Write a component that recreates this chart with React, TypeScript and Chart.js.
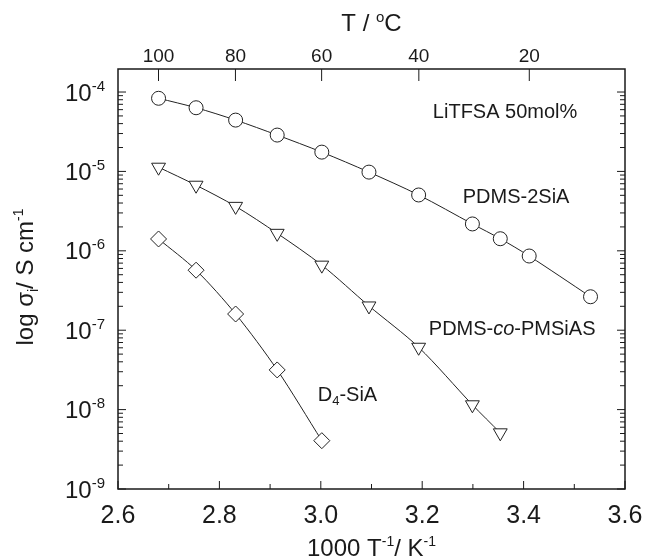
import React, { useEffect, useRef } from "react";
import { Chart, registerables } from "chart.js";

Chart.register(...registerables);

// ---- data (1000/T in K^-1, conductivity in S/cm) ----
const invT_2SiA = [2.680, 2.754, 2.832, 2.914, 3.002, 3.095, 3.193, 3.299, 3.354, 3.411, 3.532];
const sigma_2SiA = [8.34e-5, 6.34e-5, 4.43e-5, 2.87e-5, 1.75e-5, 9.8e-6, 5.05e-6, 2.18e-6, 1.42e-6, 8.6e-7, 2.64e-7];

const invT_coPMSiAS = [2.680, 2.754, 2.832, 2.914, 3.002, 3.095, 3.193, 3.299, 3.354];
const sigma_coPMSiAS = [1.13e-5, 6.7e-6, 3.63e-6, 1.66e-6, 6.6e-7, 2.02e-7, 6.1e-8, 1.15e-8, 5.1e-9];

const invT_D4SiA = [2.680, 2.754, 2.832, 2.914, 3.002];
const sigma_D4SiA = [1.41e-6, 5.7e-7, 1.6e-7, 3.16e-8, 4.06e-9];

// ---- axes ----
const X_MIN = 2.6;
const X_MAX = 3.6;
const Y_MIN = 1e-9;
const Y_MAX = 1.95e-4;
const xTickValues = [2.6, 2.8, 3.0, 3.2, 3.4, 3.6];
const topTempLabels = [100, 80, 60, 40, 20]; // °C
const yDecades = [-9, -8, -7, -6, -5, -4];

// ---- annotations (anchor in data coords: left edge, vertical centre) ----
const annotationTexts = ["LiTFSA 50mol%", "PDMS-2SiA", "PDMS-co-PMSiAS", "D4-SiA"];
const annotationX = [3.221, 3.280, 3.213, 2.994];
const annotationY = [5.77e-5, 4.9e-6, 1.07e-7, 1.57e-8];

const FONT = '"Liberation Sans", Arial, Helvetica, sans-serif';
const INK = "#1a1a1a";

type Seg = { t: string; size: number; dy?: number; italic?: boolean };

function drawRich(
  ctx: CanvasRenderingContext2D,
  segs: Seg[],
  x: number,
  yBase: number,
  align: "left" | "center" | "right"
) {
  const fontOf = (s: Seg) => `${s.italic ? "italic " : ""}${s.size}px ${FONT}`;
  const widths = segs.map((s) => {
    ctx.font = fontOf(s);
    return ctx.measureText(s.t).width;
  });
  const total = widths.reduce((a, b) => a + b, 0);
  let cx = align === "left" ? x : align === "center" ? x - total / 2 : x - total;
  ctx.textAlign = "left";
  ctx.textBaseline = "alphabetic";
  segs.forEach((s, i) => {
    ctx.font = fontOf(s);
    ctx.fillText(s.t, cx, yBase + (s.dy || 0));
    cx += widths[i];
  });
}

function annotationSegs(text: string): Seg[] {
  if (text === "PDMS-co-PMSiAS") {
    return [
      { t: "PDMS-", size: 20 },
      { t: "co", size: 20, italic: true },
      { t: "-PMSiAS", size: 20 },
    ];
  }
  if (text === "D4-SiA") {
    return [
      { t: "D", size: 20 },
      { t: "4", size: 13, dy: 4 },
      { t: "-SiA", size: 20 },
    ];
  }
  return [{ t: text, size: 20 }];
}

const decorPlugin = {
  id: "decor",
  afterDraw(chart: any) {
    const { ctx, chartArea } = chart;
    const { left, right, top, bottom } = chartArea;
    const xs = chart.scales.x;
    const xt = chart.scales.x2;
    const ys = chart.scales.y;
    ctx.save();
    ctx.strokeStyle = INK;
    ctx.fillStyle = INK;
    ctx.lineWidth = 1;
    const line = (x1: number, y1: number, x2: number, y2: number) => {
      ctx.beginPath();
      ctx.moveTo(x1, y1);
      ctx.lineTo(x2, y2);
      ctx.stroke();
    };
    // bottom ticks: majors at labelled values, minors halfway
    xTickValues.forEach((v, i) => {
      const px = xs.getPixelForValue(v);
      line(px, bottom, px, bottom - 8);
      if (i < xTickValues.length - 1) {
        const pm = xs.getPixelForValue((v + xTickValues[i + 1]) / 2);
        line(pm, bottom, pm, bottom - 5);
      }
    });
    // top ticks (temperature)
    xt.ticks.forEach((t: any) => {
      const px = xt.getPixelForValue(t.value);
      line(px, top, px, top + 12);
    });
    // left / right log ticks
    yDecades.forEach((e) => {
      for (let k = 1; k <= 9; k++) {
        const v = k * Math.pow(10, e);
        if (v > Y_MAX * 1.0001 || v < Y_MIN * 0.9999) continue;
        const py = ys.getPixelForValue(v);
        const len = k === 1 ? 8 : 5;
        line(left, py, left + len, py);
        line(right, py, right - len, py);
      }
    });
    // frame
    ctx.lineWidth = 1.5;
    ctx.strokeRect(left, top, right - left, bottom - top);

    // y tick labels 10^n
    yDecades.forEach((e) => {
      const py = ys.getPixelForValue(Math.pow(10, e));
      drawRich(
        ctx,
        [
          { t: "10", size: 24 },
          { t: String(e), size: 15, dy: -10 },
        ],
        left - 13,
        py + 8.6,
        "right"
      );
    });

    // x title
    const cxArea = (left + right) / 2;
    drawRich(
      ctx,
      [
        { t: "1000 T", size: 24 },
        { t: "-1", size: 14, dy: -10 },
        { t: "/ K", size: 24 },
        { t: "-1", size: 14, dy: -10 },
      ],
      cxArea,
      556,
      "center"
    );
    // top title
    drawRich(
      ctx,
      [
        { t: "T / ", size: 24 },
        { t: "o", size: 15, dy: -9 },
        { t: "C", size: 24 },
      ],
      cxArea,
      31,
      "center"
    );
    // y title (rotated)
    ctx.save();
    ctx.translate(33, (top + bottom) / 2 - 2);
    ctx.rotate(-Math.PI / 2);
    drawRich(
      ctx,
      [
        { t: "log σ", size: 24 },
        { t: "i", size: 14, dy: 5 },
        { t: "/ S cm", size: 24 },
        { t: "-1", size: 14, dy: -10 },
      ],
      0,
      0,
      "center"
    );
    ctx.restore();

    // annotations
    annotationTexts.forEach((txt, i) => {
      const px = xs.getPixelForValue(annotationX[i]);
      const py = ys.getPixelForValue(annotationY[i]);
      drawRich(ctx, annotationSegs(txt), px, py + 7.2, "left");
    });
    ctx.restore();
  },
};

function toXY(xa: number[], ya: number[]) {
  return xa.map((x, i) => ({ x, y: ya[i] }));
}

export default function App() {
  const ref = useRef<HTMLCanvasElement | null>(null);

  useEffect(() => {
    document.body.style.margin = "0";
    document.body.style.overflow = "hidden";
    const canvas = ref.current;
    if (!canvas) return;
    const common = {
      borderColor: "#222",
      borderWidth: 1,
      pointBorderColor: "#222",
      pointBackgroundColor: "#ffffff",
      pointBorderWidth: 1,
      tension: 0.3,
      fill: false,
      showLine: true,
    };
    const zeroPad = (s: any) => {
      s.paddingLeft = 0;
      s.paddingRight = 0;
      s.paddingTop = 0;
      s.paddingBottom = 0;
    };
    const chart = new Chart(canvas, {
      type: "scatter",
      data: {
        datasets: [
          {
            ...common,
            label: "PDMS-2SiA",
            data: toXY(invT_2SiA, sigma_2SiA),
            pointStyle: "circle",
            pointRadius: 7,
          },
          {
            ...common,
            label: "PDMS-co-PMSiAS",
            data: toXY(invT_coPMSiAS, sigma_coPMSiAS),
            pointStyle: "triangle",
            pointRotation: 180,
            pointRadius: 8,
          },
          {
            ...common,
            label: "D4-SiA",
            data: toXY(invT_D4SiA, sigma_D4SiA),
            pointStyle: "rectRot",
            pointRadius: 8,
          },
        ] as any,
      },
      options: {
        animation: false,
        responsive: false,
        events: [],
        layout: { padding: { left: 0, right: 20, top: 0, bottom: 0 } },
        plugins: {
          legend: { display: false },
          tooltip: { enabled: false },
        },
        scales: {
          x: {
            type: "linear",
            position: "bottom",
            min: X_MIN,
            max: X_MAX,
            grid: { display: false, drawTicks: false },
            border: { display: false },
            afterBuildTicks: (s: any) => {
              s.ticks = xTickValues.map((v) => ({ value: v }));
            },
            afterFit: (s: any) => {
              s.height = 71;
              zeroPad(s);
            },
            ticks: {
              autoSkip: false,
              maxRotation: 0,
              padding: 12,
              color: INK,
              font: { family: FONT, size: 25 },
              callback: (_v: any, i: number) => xTickValues[i].toFixed(1),
            },
          },
          x2: {
            type: "linear",
            position: "top",
            min: X_MIN,
            max: X_MAX,
            grid: { display: false, drawTicks: false },
            border: { display: false },
            afterBuildTicks: (s: any) => {
              s.ticks = topTempLabels.map((t) => ({ value: 1000 / (t + 273.15) }));
            },
            afterFit: (s: any) => {
              s.height = 69;
              zeroPad(s);
            },
            ticks: {
              autoSkip: false,
              maxRotation: 0,
              padding: 1,
              color: INK,
              font: { family: FONT, size: 19 },
              callback: (_v: any, i: number) => String(topTempLabels[i]),
            },
          },
          y: {
            type: "logarithmic",
            position: "left",
            min: Y_MIN,
            max: Y_MAX,
            grid: { display: false, drawTicks: false },
            border: { display: false },
            ticks: { display: false },
            afterFit: (s: any) => {
              s.width = 118;
              zeroPad(s);
            },
          },
        },
      } as any,
      plugins: [decorPlugin],
    });
    return () => chart.destroy();
  }, []);

  return (
    <div style={{ width: 645, height: 560 }}>
      <canvas ref={ref} width={645} height={560} style={{ display: "block" }} />
    </div>
  );
}
